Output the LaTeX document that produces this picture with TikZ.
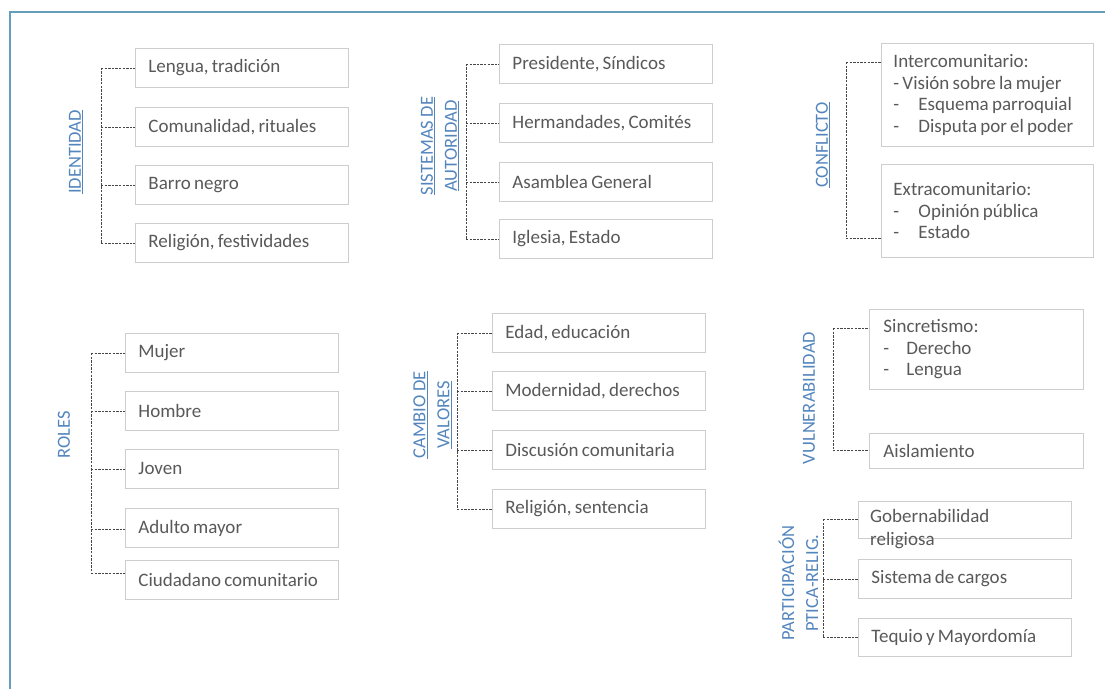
\documentclass[tikz,border=0pt]{standalone}
\usepackage{fontspec}
\setmainfont{Carlito}
\newfontfamily\bxfont{Carlito}
\newfontfamily\lbfont[WordSpace=0.8]{Carlito}
\definecolor{txtgray}{RGB}{89,89,89}
\definecolor{boxgray}{RGB}{205,205,205}
\definecolor{lblblue}{RGB}{84,134,190}
\definecolor{brkgray}{RGB}{70,70,70}
\definecolor{framecol}{RGB}{100,158,185}
\begin{document}
\begin{tikzpicture}[x=1pt,y=-1pt,
  bx/.style={draw=boxgray, line width=0.9pt, anchor=north west, minimum width=213pt,
    minimum height=39pt, inner xsep=13pt, inner ysep=0pt, text width=187pt, align=left,
    font=\bxfont\fontsize{19}{21.5}\selectfont, text=txtgray,
    execute at begin node={\spaceskip=0.17em\relax}},
  lbl/.style={rotate=90, align=center, font=\lbfont\fontsize{18.5}{24}\selectfont, text=lblblue, inner sep=0pt},
  brk/.style={draw=brkgray, line width=0.8pt, dash pattern=on 2.4pt off 1.2pt},
  frame/.style={draw=framecol, line width=1.6pt}]
\useasboundingbox (0,0) rectangle (1105,689);
\fill[white] (0,0) rectangle (1105,689);
\draw[frame] (1105,12) -- (10,12) -- (10,689);

% ---------- IDENTIDAD ----------
\node[lbl] (lid) at (76,152) {\underline{IDENTIDAD}};
\node[bx] (id1) at (135,48) {Lengua, tradición};
\node[bx] (id2) at (135,107) {Comunalidad, rituales};
\node[bx] (id3) at (135,165) {Barro negro};
\node[bx] (id4) at (135,223) {Religión, festividades};
\coordinate (idt) at (101,67.5);
\coordinate (idb) at (101,242.5);
\draw[brk] (idt) -- (idb);
\foreach \k in {1,...,4} {\draw[brk] (idt |- id\k.west) -- (id\k.west);}

% ---------- SISTEMAS DE AUTORIDAD ----------
\node[lbl] (lsa) at (440,146) {\underline{SISTEMAS DE}\\\underline{AUTORIDAD}};
\node[bx] (sa1) at (499,44) {Presidente, Síndicos};
\node[bx] (sa2) at (499,103) {Hermandades, Comités};
\node[bx] (sa3) at (499,162) {Asamblea General};
\node[bx] (sa4) at (499,219) {Iglesia, Estado};
\coordinate (sat) at (466,63.5);
\coordinate (sab) at (466,238.5);
\draw[brk] (sat) -- (sab);
\foreach \k in {1,...,4} {\draw[brk] (sat |- sa\k.west) -- (sa\k.west);}

% ---------- CONFLICTO ----------
\node[lbl] (lco) at (823,145) {\underline{CONFLICTO}};
\node[bx, minimum width=212pt, text width=188pt, inner xsep=12pt, minimum height=103pt] (co1) at (881,43)
  {Intercomunitario:\\- Visión sobre la mujer\\\makebox[25pt][l]{-}Esquema parroquial\\\makebox[25pt][l]{-}Disputa por el poder};
\node[bx, minimum width=212pt, text width=188pt, inner xsep=12pt, minimum height=93pt] (co2) at (881,164)
  {Extracomunitario:\\\makebox[25pt][l]{-}Opinión pública\\\makebox[25pt][l]{-}Estado\\[4pt]};
\coordinate (cot) at (846,62);
\coordinate (cob) at (846,238);
\draw[brk] (cot) -- (cob);
\draw[brk] (cot) -- (cot -| co1.west);
\draw[brk] (cob) -- (cob -| co2.west);

% ---------- ROLES ----------
\node[lbl] (lro) at (64,435) {ROLES};
\node[bx] (ro1) at (125,333) {Mujer};
\node[bx] (ro2) at (125,391) {Hombre};
\node[bx] (ro3) at (125,449) {Joven};
\node[bx] (ro4) at (125,508) {Adulto mayor};
\node[bx] (ro5) at (125,560) {Ciudadano comunitario};
\coordinate (rot) at (91,353);
\coordinate (ro4c) at (91,529);
\coordinate (rob) at (91,573);
\draw[brk] (rot) -- (rob);
\draw[brk] (rot) -- (rot -| ro1.west);
\draw[brk] (rot |- ro2.west) -- (ro2.west);
\draw[brk] (rot |- ro3.west) -- (ro3.west);
\draw[brk] (ro4c) -- (ro4c -| ro4.west);
\draw[brk] (rob) -- (rob -| ro5.west);

% ---------- CAMBIO DE VALORES ----------
\node[lbl] (lcv) at (432.5,415) {\underline{CAMBIO DE}\\\underline{VALORES}};
\node[bx] (cv1) at (492,313) {Edad, educación};
\node[bx] (cv2) at (492,371) {Modernidad, derechos};
\node[bx] (cv3) at (492,430) {Discusión comunitaria};
\node[bx] (cv4) at (492,489) {Religión, sentencia};
\coordinate (cvt) at (457,332.5);
\coordinate (cvb) at (457,508.5);
\draw[brk] (cvt) -- (cvb);
\foreach \k in {1,...,4} {\draw[brk] (cvt |- cv\k.west) -- (cv\k.west);}

% ---------- VULNERABILIDAD ----------
\node[lbl] (lvu) at (809,398) {VULNERABILIDAD};
\node[bx, minimum width=214pt, text width=186pt, inner xsep=14pt, minimum height=80pt] (vu1) at (869,309)
  {Sincretismo:\\\makebox[23pt][l]{-}Derecho\\\makebox[23pt][l]{-}Lengua};
\node[bx, minimum width=214pt, text width=186pt, inner xsep=14pt, minimum height=35pt] (vu2) at (869,433) {Aislamiento};
\coordinate (vut) at (833,328);
\coordinate (vub) at (833,450);
\draw[brk] (vut) -- (vub);
\draw[brk] (vut) -- (vut -| vu1.west);
\draw[brk] (vub) -- (vub -| vu2.west);

% ---------- PARTICIPACION ----------
\node[lbl] (lpa) at (798.5,583) {PARTICIPACIÓN\\PTICA-RELIG.};
\node[bx, minimum height=37pt] (pa1) at (858,501) {};
\node[anchor=west, inner sep=0pt, align=left, font=\bxfont\fontsize{19}{23}\selectfont, text=txtgray] (pa1t) at (870,529.5)
  {Gobernabilidad\\religiosa};
\node[bx] (pa2) at (858,559) {Sistema de cargos};
\node[bx, minimum height=38pt] (pa3) at (858,618) {Tequio y Mayordomía};
\coordinate (pat) at (823,519);
\coordinate (pab) at (823,637);
\draw[brk] (pat) -- (pab);
\draw[brk] (pat) -- (pat -| pa1.west);
\draw[brk] (pat |- pa2.west) -- (pa2.west);
\draw[brk] (pab) -- (pab -| pa3.west);
\end{tikzpicture}
\end{document}
